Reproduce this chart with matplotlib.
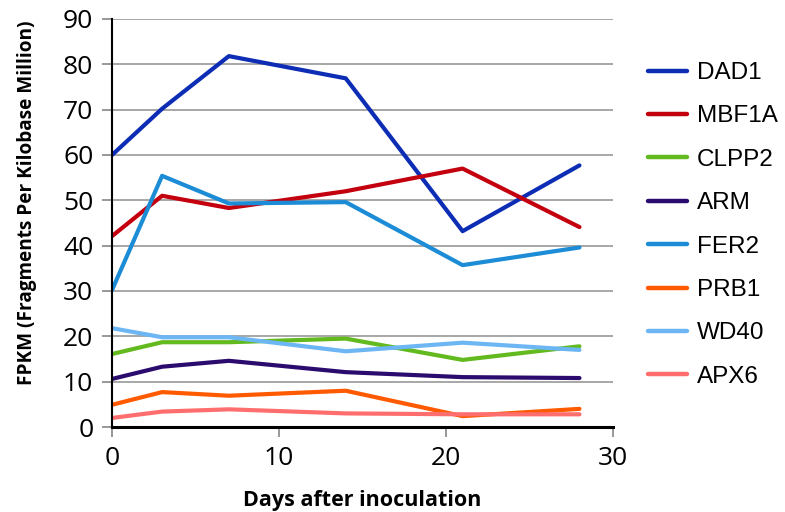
import matplotlib.pyplot as plt

# days after inoculation
days = [0, 3, 7, 14, 21, 28]

# FPKM values per gene
dad1 = [60.0, 70.2, 81.8, 76.9, 43.2, 57.7]
mbf1a = [42.1, 51.0, 48.3, 52.0, 57.0, 44.1]
clpp2 = [16.1, 18.7, 18.7, 19.5, 14.8, 17.8]
arm = [10.6, 13.3, 14.6, 12.1, 11.0, 10.8]
fer2 = [30.2, 55.4, 49.3, 49.6, 35.7, 39.6]
prb1 = [4.9, 7.7, 6.9, 8.0, 2.4, 4.0]
wd40 = [21.8, 19.8, 19.8, 16.7, 18.6, 17.0]
apx6 = [2.0, 3.4, 3.9, 3.0, 2.8, 2.8]

genes = ['DAD1', 'MBF1A', 'CLPP2', 'ARM', 'FER2', 'PRB1', 'WD40', 'APX6']
series = [dad1, mbf1a, clpp2, arm, fer2, prb1, wd40, apx6]
colors = ['#0C2DB4', '#C4000F', '#62BA1E', '#2B0B6E',
          '#1C8CD6', '#FF5A00', '#6DB6F4', '#FF6E6E']

fig = plt.figure(figsize=(7.85, 5.12), dpi=100)
ax = fig.add_axes([0.1427, 0.166, 0.638, 0.797])

for name, vals, c in zip(genes, series, colors):
    ax.plot(days, vals, color=c, linewidth=3, label=name,
            solid_capstyle='round', solid_joinstyle='round')

ax.set_xlim(0, 30)
ax.set_ylim(0, 90)
ax.set_xticks([0, 10, 20, 30])
ax.set_yticks(range(0, 91, 10))
ax.grid(axis='y', color='#a0a0a0', linewidth=1.3)
ax.set_axisbelow(True)

for s in ['top', 'right']:
    ax.spines[s].set_visible(False)
ax.spines['left'].set_linewidth(1.5)
ax.spines['bottom'].set_linewidth(2.2)
ax.tick_params(axis='y', direction='out', length=7, width=1.3, color='#909090',
               labelsize=19, pad=6.5)
ax.tick_params(axis='x', direction='out', length=7, width=1.3, color='#909090',
               labelsize=19, pad=6.5)
for lab in ax.get_xticklabels() + ax.get_yticklabels():
    lab.set_fontfamily('Open Sans')

ax.set_xlabel('Days after inoculation', fontsize=15.5, fontweight='bold',
              fontfamily='Open Sans', labelpad=14)
ax.set_ylabel('FPKM (Fragments Per Kilobase Million)', fontsize=13.7,
              fontweight='bold', fontfamily='Open Sans')
ax.yaxis.set_label_coords(-0.15, 0.549)

leg = fig.legend(loc='upper left', bbox_to_anchor=(648 / 785, 1 - 62 / 512),
                 frameon=False, borderpad=0, borderaxespad=0,
                 prop={'family': 'Liberation Sans', 'size': 17.5},
                 handlelength=1.6, handletextpad=0.4, labelspacing=0.88)
for line in leg.get_lines():
    line.set_linewidth(3.2)

fig.savefig('out.png', dpi=100)
